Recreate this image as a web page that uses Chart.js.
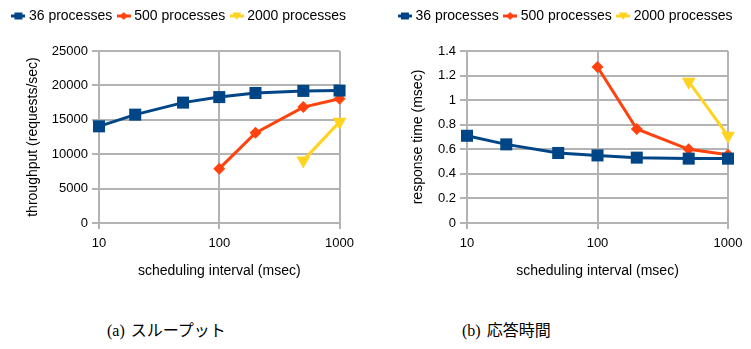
<!DOCTYPE html>
<html lang="ja">
<head>
<meta charset="UTF-8">
<title>scheduling interval</title>
<script src="https://cdn.jsdelivr.net/npm/chart.js@4.4.0/dist/chart.umd.min.js"></script>
<style>
  body { margin: 0; background: #fff; width: 751px; height: 349px; overflow: hidden; position: relative; }
  canvas { position: absolute; top: 0; }
  #chartA { left: 0; }
  #chartB { left: 383px; }
  .caption { position: absolute; top: 319px; line-height: 20px; font-size: 16px; color: #000; white-space: nowrap; }
  .caption .tag { font-family: "Liberation Serif", "DejaVu Serif", serif; margin-right: 6px; }
  .caption .jp { font-family: "Noto Sans CJK JP", sans-serif; }
</style>
</head>
<body>
<canvas id="chartA" width="361" height="300"></canvas>
<canvas id="chartB" width="368" height="300"></canvas>
<div class="caption" style="left:107px"><span class="tag">(a)</span><span class="jp">スループット</span></div>
<div class="caption" style="left:462px"><span class="tag">(b)</span><span class="jp">応答時間</span></div>

<script>
// scheduling interval (msec)
const intervals = [10, 20, 50, 100, 200, 500, 1000];
const seriesNames = ['36 processes', '500 processes', '2000 processes'];

// (a) throughput (requests/sec)
const thr36   = [14050, 15750, 17500, 18300, 18900, 19200, 19250];
const thr500  = [null, null, null, 7900, 13100, 16850, 18050];
const thr2000 = [null, null, null, null, null, 9100, 14700];

// (b) response time (msec)
const rt36   = [0.71, 0.64, 0.57, 0.55, 0.532, 0.524, 0.524];
const rt500  = [null, null, null, 1.27, 0.765, 0.60, 0.555];
const rt2000 = [null, null, null, null, null, 1.15, 0.71];

const xTicks  = [10, 100, 1000];
const yTicksA = [0, 5000, 10000, 15000, 20000, 25000];
const yTicksB = [0, 0.2, 0.4, 0.6, 0.8, 1, 1.2, 1.4];

const colors = ['#004586', '#ff420e', '#ffd320'];
const gridColor = '#b3b3b3';
Chart.defaults.font.family = '"Liberation Sans", Arial, sans-serif';
Chart.defaults.color = '#000';

// small line+marker icon for legend entries
function legendIcon(color, kind) {
  const c = document.createElement('canvas');
  c.width = 14; c.height = 10;
  const ctx = c.getContext('2d');
  ctx.strokeStyle = color; ctx.fillStyle = color; ctx.lineWidth = 3;
  ctx.beginPath(); ctx.moveTo(0, 5); ctx.lineTo(14, 5); ctx.stroke();
  ctx.beginPath();
  if (kind === 0) {
    ctx.rect(3, 1.5, 8, 7);
  } else if (kind === 1) {
    ctx.moveTo(7, 1); ctx.lineTo(11, 5); ctx.lineTo(7, 9); ctx.lineTo(3, 5);
  } else {
    ctx.moveTo(2.5, 1.5); ctx.lineTo(11.5, 1.5); ctx.lineTo(7, 9);
  }
  ctx.closePath(); ctx.fill();
  return c;
}
const icons = colors.map((c, i) => legendIcon(c, i));

// extra room between legend and plot
const legendSpace = {
  id: 'legendSpace',
  beforeInit(chart) {
    const fit = chart.legend.fit;
    chart.legend.fit = function () { fit.call(this); this.height += 18; };
  }
};

function points(vals) {
  return intervals.map((x, i) => ({ x: x, y: vals[i] })).filter(p => p.y !== null);
}

function makeDatasets(lists) {
  const styles = [
    { pointStyle: 'rect', pointRadius: 8.5, rotation: 0 },
    { pointStyle: 'rectRot', pointRadius: 6, rotation: 0 },
    { pointStyle: 'triangle', pointRadius: 8, rotation: 180 }
  ];
  return lists.map((vals, i) => ({
    label: seriesNames[i],
    data: points(vals),
    borderColor: colors[i],
    backgroundColor: colors[i],
    borderWidth: 3,
    pointStyle: styles[i].pointStyle,
    pointRadius: styles[i].pointRadius,
    pointRotation: styles[i].rotation,
    pointBorderWidth: 0,
    pointBackgroundColor: colors[i],
    clip: false,
    tension: 0
  }));
}

function makeChart(id, lists, yTicks, yMax, yTitle, yWidth, rightSpace, titlePad) {
  new Chart(document.getElementById(id), {
    type: 'line',
    data: { datasets: makeDatasets(lists) },
    plugins: [legendSpace],
    options: {
      responsive: false,
      animation: false,
      devicePixelRatio: 1,
      layout: { padding: { top: 1, left: 0, right: 0, bottom: 0 } },
      plugins: {
        tooltip: { enabled: false },
        legend: {
          position: 'top',
          labels: {
            usePointStyle: true,
            pointStyleWidth: 7,
            padding: 8,
            font: { size: 14 },
            color: '#000',
            generateLabels: chart => chart.data.datasets.map((ds, i) => ({
              text: ds.label,
              pointStyle: icons[i],
              fillStyle: ds.borderColor,
              strokeStyle: ds.borderColor,
              lineWidth: 0,
              hidden: false,
              datasetIndex: i
            }))
          }
        }
      },
      scales: {
        x: {
          type: 'logarithmic',
          min: 10,
          max: 1000,
          afterBuildTicks: s => { s.ticks = xTicks.map(v => ({ value: v })); },
          afterFit: s => { s.height = 77; },
          grid: { color: gridColor, lineWidth: 2, tickLength: 6 },
          border: { color: gridColor, width: 2 },
          ticks: { font: { size: 13 }, color: '#000', padding: 7, maxRotation: 0, autoSkip: false, callback: v => String(v) },
          title: { display: true, text: 'scheduling interval (msec)', font: { size: 14 }, color: '#000', padding: { top: 0, bottom: 20 } }
        },
        y: {
          min: 0,
          max: yMax,
          afterBuildTicks: s => { s.ticks = yTicks.map(v => ({ value: v })); },
          afterFit: s => { s.width = yWidth; },
          grid: { color: gridColor, lineWidth: 2, tickLength: 7 },
          border: { color: gridColor, width: 2 },
          ticks: { font: { size: 13 }, color: '#000', padding: 4, callback: v => String(v) },
          title: { display: true, text: yTitle, font: { size: 14 }, color: '#000', padding: { top: titlePad, bottom: 0 } }
        },
        // empty right-hand strip so the plot stops short of the canvas edge
        gap: {
          type: 'linear',
          position: 'right',
          min: 0,
          max: 1,
          grid: { display: false },
          border: { display: false },
          ticks: { display: false },
          afterFit: s => { s.width = rightSpace; }
        }
      }
    }
  });
}

makeChart('chartA', [thr36, thr500, thr2000], yTicksA, 25000, 'throughput (requests/sec)', 99, 20, 25);
makeChart('chartB', [rt36, rt500, rt2000], yTicksB, 1.4, 'response time (msec)', 84, 23, 27);
</script>
</body>
</html>
